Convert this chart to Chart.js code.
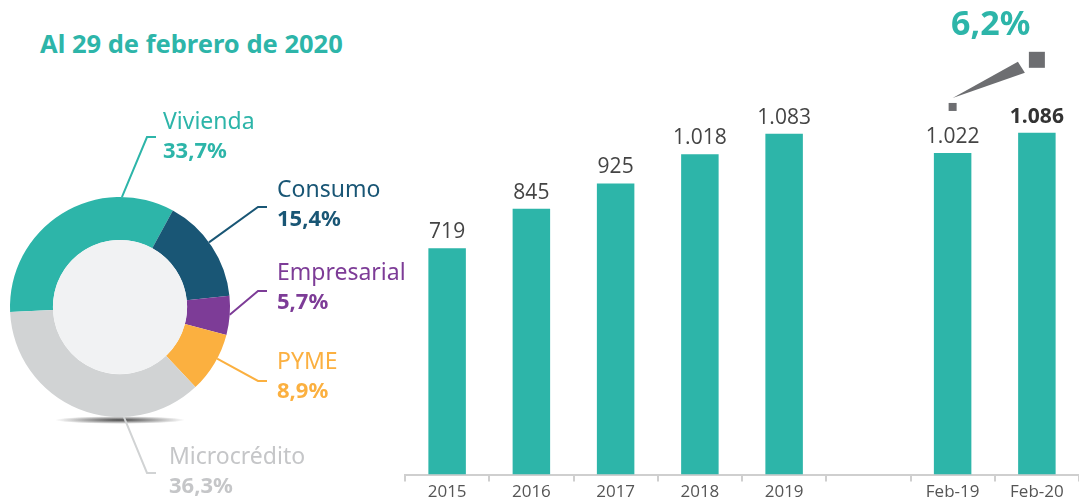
<!DOCTYPE html>
<html>
<head>
<meta charset="utf-8">
<script src="https://cdn.jsdelivr.net/npm/chart.js@4/dist/chart.umd.min.js"></script>
<style>
    body { margin: 0; width: 1079px; height: 502px; background: #fff; overflow: hidden; position: relative; font-family: "Noto Sans", sans-serif; }
    #title { position: absolute; left: 40px; top: 26px; font-size: 25.5px; font-weight: bold; color: #2db5a9; white-space: nowrap; }
    #donutChart { position: absolute; left: 0; top: 0; }
    #barChart { position: absolute; left: 400px; top: 0; }
</style>
</head>
<body>
<div id="title">Al 29 de febrero de 2020</div>
<canvas id="donutChart" width="430" height="502"></canvas>
<canvas id="barChart" width="679" height="502"></canvas>

<script>
// Cartera por segmento (%)
const segmentos = ['Vivienda', 'Consumo', 'Empresarial', 'PYME', 'Microcrédito'];
const participacion = [33.7, 15.4, 5.7, 8.9, 36.3];

// Cartera total por periodo
const periodos = ['2015', '2016', '2017', '2018', '2019', '', 'Feb-19', 'Feb-20'];
const cartera = [719, 845, 925, 1018, 1083, null, 1022, 1086];
const crecimiento = 6.2;

const segColors = ['#2db5a9', '#195675', '#7d3c97', '#fbb040', '#d1d3d4'];
const segTextColors = ['#2db5a9', '#195675', '#7d3c97', '#fbb040', '#c5c6c8'];
const TEAL = '#2db5a9';

function fmtPct(v) {
    return v.toFixed(1).replace('.', ',') + '%';
}
function fmtMiles(v) {
    return v.toLocaleString('de-DE');
}

// posiciones de las etiquetas del anillo (relativas al centro)
const donutLabelLayout = [
    { angle: 1,   elbow: [27, -170], end: [36, -170], text: [43, -185] },
    { angle: 54,  elbow: [138, -100], end: [147, -100], text: [157, -117] },
    { angle: 94,  elbow: [138, -16], end: [147, -16], text: [157, -34] },
    { angle: 118, elbow: [138, 74], end: [147, 74], text: [157, 55] },
    { angle: 178, elbow: [27, 166], end: [36, 166], text: [49, 150] }
];

const donutExtras = {
    id: 'donutExtras',
    beforeDatasetsDraw(chart) {
        const arc = chart.getDatasetMeta(0).data[0];
        const { x, y, outerRadius } = arc.getProps(['x', 'y', 'outerRadius'], true);
        const ctx = chart.ctx;
        ctx.save();
        // sombra bajo el anillo
        const sy = y + outerRadius + 3;
        const g = ctx.createRadialGradient(x, sy, 0, x, sy, 65);
        g.addColorStop(0, 'rgba(40,40,40,0.85)');
        g.addColorStop(1, 'rgba(40,40,40,0)');
        ctx.translate(x, sy);
        ctx.scale(1, 0.06);
        ctx.translate(-x, -sy);
        ctx.fillStyle = g;
        ctx.beginPath();
        ctx.arc(x, sy, 65, 0, Math.PI * 2);
        ctx.fill();
        ctx.restore();
    },
    afterDatasetsDraw(chart) {
        const arc = chart.getDatasetMeta(0).data[0];
        const { x, y, innerRadius, outerRadius } = arc.getProps(['x', 'y', 'innerRadius', 'outerRadius'], true);
        const ctx = chart.ctx;
        ctx.save();
        ctx.fillStyle = '#f1f2f3';
        ctx.beginPath();
        ctx.arc(x, y, innerRadius, 0, Math.PI * 2);
        ctx.fill();

        segmentos.forEach((name, i) => {
            const l = donutLabelLayout[i];
            const a = (l.angle - 90) * Math.PI / 180;
            ctx.strokeStyle = segColors[i];
            ctx.lineWidth = 2;
            ctx.beginPath();
            ctx.moveTo(x + Math.cos(a) * outerRadius, y + Math.sin(a) * outerRadius);
            ctx.lineTo(x + l.elbow[0], y + l.elbow[1]);
            ctx.lineTo(x + l.end[0], y + l.end[1]);
            ctx.stroke();

            ctx.fillStyle = segTextColors[i];
            ctx.textAlign = 'left';
            ctx.textBaseline = 'middle';
            ctx.font = '23px "Noto Sans"';
            ctx.fillText(name, x + l.text[0], y + l.text[1]);
            ctx.font = 'bold 22px "Noto Sans"';
            ctx.fillText(fmtPct(participacion[i]), x + l.text[0], y + l.text[1] + 30);
        });
        ctx.restore();
    }
};

new Chart(document.getElementById('donutChart'), {
    type: 'doughnut',
    data: {
        labels: segmentos,
        datasets: [{
            data: participacion,
            backgroundColor: segColors,
            borderWidth: 0
        }]
    },
    options: {
        responsive: false,
        animation: false,
        cutout: '61%',
        rotation: -92.6,
        layout: { padding: { left: 10, top: 197, right: 200, bottom: 85 } },
        plugins: { legend: { display: false }, tooltip: { enabled: false } }
    },
    plugins: [donutExtras]
});

const barExtras = {
    id: 'barExtras',
    afterDatasetsDraw(chart) {
        const ctx = chart.ctx;
        const meta = chart.getDatasetMeta(0);
        ctx.save();
        ctx.textAlign = 'center';
        ctx.textBaseline = 'middle';
        meta.data.forEach((bar, i) => {
            if (cartera[i] == null) return;
            const last = i === cartera.length - 1;
            ctx.font = (last ? 'bold ' : '') + '21px "Open Sans"';
            ctx.fillStyle = last ? '#333333' : '#444444';
            ctx.fillText(fmtMiles(cartera[i]), bar.x, bar.y - 16);
        });

        // flecha de crecimiento Feb-19 -> Feb-20
        const a = meta.data[6], b = meta.data[7];
        const smallY = a.y - 46, bigY = b.y - 73;
        ctx.fillStyle = '#6d6e71';
        ctx.fillRect(a.x - 4, smallY - 4, 8, 8);
        ctx.fillRect(b.x - 8, bigY - 8, 16, 16);
        ctx.beginPath();
        ctx.moveTo(a.x, smallY - 9);
        ctx.lineTo(b.x - 19, bigY + 2);
        ctx.lineTo(b.x - 12, bigY + 13);
        ctx.closePath();
        ctx.fill();

        ctx.fillStyle = TEAL;
        ctx.font = 'bold 34px "Noto Sans"';
        ctx.fillText(fmtPct(crecimiento), (a.x + b.x) / 2 - 4, 25);
        ctx.restore();
    }
};

new Chart(document.getElementById('barChart'), {
    type: 'bar',
    data: {
        labels: periodos,
        datasets: [{
            data: cartera,
            backgroundColor: TEAL,
            borderWidth: 0,
            barPercentage: 0.445,
            categoryPercentage: 1
        }]
    },
    options: {
        responsive: false,
        animation: false,
        layout: { padding: { left: 5, right: 0, top: 0, bottom: 0 } },
        scales: {
            x: {
                grid: { display: true, drawOnChartArea: false, drawTicks: true, tickLength: 7, color: '#cfcfcf', lineWidth: 2, offset: true },
                border: { display: true, color: '#cfcfcf', width: 2 },
                ticks: { color: '#555555', font: { family: '"Open Sans"', size: 17 }, padding: 0, maxRotation: 0, autoSkip: false }
            },
            y: { display: false, min: 0, max: 1508 }
        },
        plugins: { legend: { display: false }, tooltip: { enabled: false } }
    },
    plugins: [barExtras]
});
</script>
</body>
</html>
